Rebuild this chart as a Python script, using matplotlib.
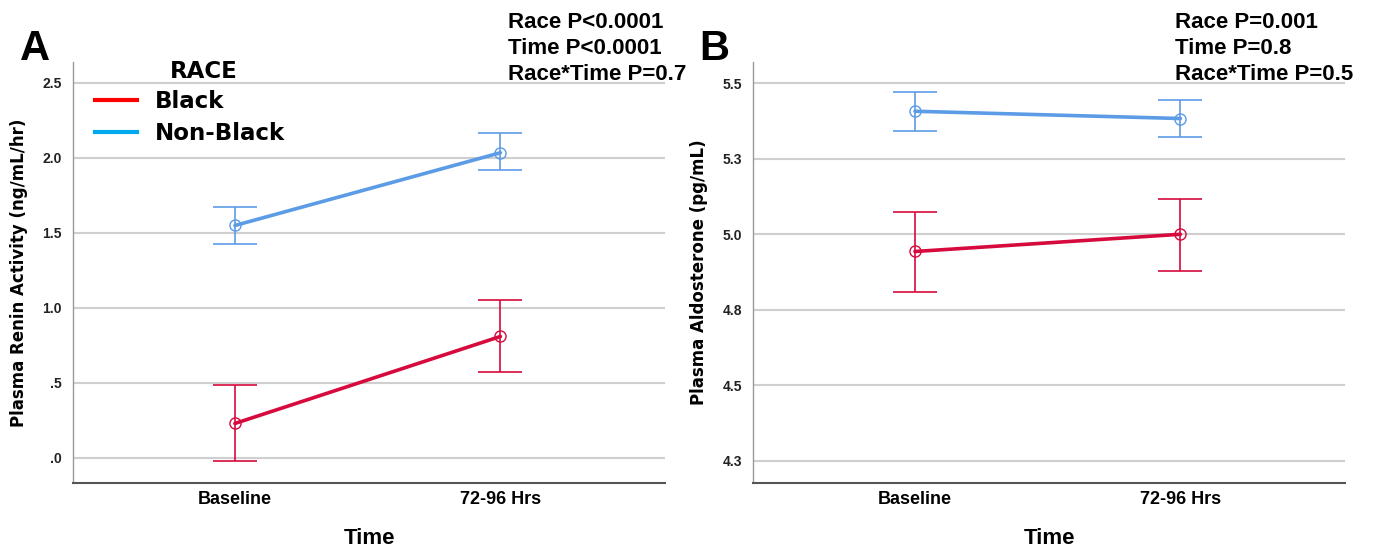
import matplotlib
matplotlib.use("Agg")
import matplotlib.pyplot as plt
from matplotlib.lines import Line2D
from matplotlib.ticker import FixedLocator, FixedFormatter

plt.rcParams['font.family'] = ['Liberation Sans', 'DejaVu Sans']

time_labels = ["Baseline", "72-96 Hrs"]
races = ["Black", "Non-Black"]

# Panel A: Plasma Renin Activity (ng/mL/hr)
renin_black = [0.23, 0.81]
renin_black_lo = [-0.02, 0.575]
renin_black_hi = [0.485, 1.05]
renin_nonblack = [1.55, 2.035]
renin_nonblack_lo = [1.425, 1.92]
renin_nonblack_hi = [1.675, 2.165]
renin_ticks = [0.0, 0.5, 1.0, 1.5, 2.0, 2.5]
renin_ticklabels = [".0", ".5", "1.0", "1.5", "2.0", "2.5"]

# Panel B: Plasma Aldosterone (pg/mL)
aldo_black = [4.943, 5.0]
aldo_black_lo = [4.81, 4.88]
aldo_black_hi = [5.075, 5.117]
aldo_nonblack = [5.407, 5.383]
aldo_nonblack_lo = [5.343, 5.323]
aldo_nonblack_hi = [5.47, 5.443]
aldo_ticks = [4.25, 4.5, 4.75, 5.0, 5.25, 5.5]
aldo_ticklabels = ["4.3", "4.5", "4.8", "5.0", "5.3", "5.5"]

pvals_a = ["Race P<0.0001", "Time P<0.0001", "Race*Time P=0.7"]
pvals_b = ["Race P=0.001", "Time P=0.8", "Race*Time P=0.5"]

RED = "#d60a3c"
BLUE = "#5c9be6"

W, H = 1375, 553
fig = plt.figure(figsize=(13.75, 5.53), dpi=100)
axA = fig.add_axes([73 / W, 1 - 483 / H, 592 / W, 421 / H])
axB = fig.add_axes([753 / W, 1 - 483 / H, 592 / W, 421 / H])

def draw(ax, black, blo, bhi, nb, nblo, nbhi, ticks, ticklabels, ylim, ylabel):
    x = list(range(len(time_labels)))
    for ticky in ticks:
        ax.axhline(ticky, color="#cfcfcf", lw=1.5, zorder=0)
    for vals, lo, hi, col in [(black, blo, bhi, RED), (nb, nblo, nbhi, BLUE)]:
        yerr = [[v - l for v, l in zip(vals, lo)], [h - v for v, h in zip(vals, hi)]]
        ax.errorbar(x, vals, yerr=yerr, fmt="none", ecolor=col, elinewidth=1.2,
                    capsize=16, capthick=1.2, zorder=2)
        ax.plot(x, vals, color=col, lw=2.6, zorder=3, solid_capstyle="round")
        ax.plot(x, vals, linestyle="none", marker="o", markersize=8,
                markerfacecolor="none", markeredgecolor=col, markeredgewidth=1.0, zorder=4)
    ax.set_xlim(-0.61, 1.62)
    ax.set_ylim(*ylim)
    ax.set_xticks(x)
    ax.set_xticklabels(time_labels, fontsize=13, fontweight="bold")
    ax.yaxis.set_major_locator(FixedLocator(ticks))
    ax.yaxis.set_major_formatter(FixedFormatter(ticklabels))
    ax.tick_params(axis="y", length=0, labelsize=10, pad=8, labelcolor="#222222")
    ax.tick_params(axis="x", length=0, pad=6)
    for lab in ax.get_yticklabels():
        lab.set_fontweight("bold")
    ax.spines["top"].set_visible(False)
    ax.spines["right"].set_visible(False)
    ax.spines["left"].set_color("#9a9a9a")
    ax.spines["left"].set_linewidth(1.0)
    ax.spines["bottom"].set_color("#555555")
    ax.spines["bottom"].set_linewidth(1.5)
    ax.set_xlabel("Time", fontsize=16, fontweight="bold", labelpad=14)
    ax.set_ylabel(ylabel, fontsize=12, fontweight="bold", labelpad=10,
                  family=["DejaVu Sans"])

draw(axA, renin_black, renin_black_lo, renin_black_hi,
     renin_nonblack, renin_nonblack_lo, renin_nonblack_hi,
     renin_ticks, renin_ticklabels, (-0.167, 2.64), "Plasma Renin Activity (ng/mL/hr)")
draw(axB, aldo_black, aldo_black_lo, aldo_black_hi,
     aldo_nonblack, aldo_nonblack_lo, aldo_nonblack_hi,
     aldo_ticks, aldo_ticklabels, (4.177, 5.57), "Plasma Aldosterone (pg/mL)")

# Legend
handles = [Line2D([0], [0], color="#ff0000", lw=3), Line2D([0], [0], color="#00aaee", lw=3)]
leg = axA.legend(handles, races, loc="upper left",
                 bbox_to_anchor=(0.037, 0.933), frameon=False,
                 prop={"size": 16.5, "weight": "bold", "family": "DejaVu Sans"},
                 handlelength=1.83, labelspacing=0.38, handletextpad=0.79,
                 borderpad=0, borderaxespad=0)
fig.text(170 / W, 1 - 78 / H, "RACE", fontsize=16.5, fontweight="bold",
         family=["DejaVu Sans"], va="baseline", ha="left")

# P-value annotations
for i, t in enumerate(pvals_a):
    fig.text(508 / W, 1 - (28 + 26 * i) / H, t, fontsize=16, fontweight="bold",
             va="baseline", ha="left")
for i, t in enumerate(pvals_b):
    fig.text(1175 / W, 1 - (28 + 26 * i) / H, t, fontsize=16, fontweight="bold",
             va="baseline", ha="left")

fig.text(20 / W, 1 - 60 / H, "A", fontsize=30, fontweight="bold", va="baseline", ha="left")
fig.text(699 / W, 1 - 60 / H, "B", fontsize=30, fontweight="bold", va="baseline", ha="left")

fig.savefig("out.png", dpi=100)
